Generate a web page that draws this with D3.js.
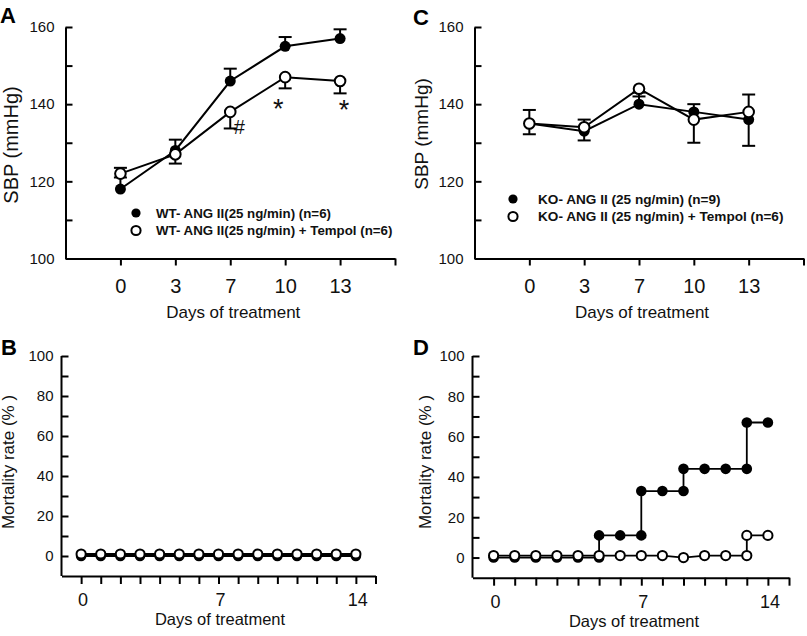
<!DOCTYPE html>
<html>
<head>
<meta charset="utf-8">
<script src="https://cdn.jsdelivr.net/npm/d3@7"></script>
<style>
  html, body { margin: 0; padding: 0; background: #fff; }
  svg { display: block; font-family: "Liberation Sans", Arial, sans-serif; }
</style>
</head>
<body>
<svg id="chart" width="807" height="636"></svg>
<script>
// ---------------- DATA ----------------
const sbpDays = ["0", "3", "7", "10", "13"];
const sbpTicks = [100, 110, 120, 130, 140, 150, 160];
const sbpTickLabels = ["100", "", "120", "", "140", "", "160"];

const wtAng = [118, 128, 146, 155, 157];
const wtAngErr = [5.5, 2.8, 3.2, 2.4, 2.4];
const wtTempol = [122, 127, 138, 147, 146];
const wtTempolErr = [1, 2.4, 4.3, 2.9, 3.2];

const koAng = [135, 133, 140, 138, 136];
const koAngErr = [3.5, 3, 3, 2, 6.5];
const koTempol = [135, 134, 144, 136, 138];
const koTempolErr = [2.8, 3.4, 2, 6, 8.8];

const annIndex = [2, 3, 4];
const annText = ["#", "*", "*"];

const mortTicks = [0, 10, 20, 30, 40, 50, 60, 70, 80, 90, 100];
const mortTickLabels = ["0", "", "20", "", "40", "", "60", "", "80", "", "100"];

// Panel B (WT): days 0..14
const bDays = [0, 1, 2, 3, 4, 5, 6, 7, 8, 9, 10, 11, 12, 13, 14];
const bAng = [0, 0, 0, 0, 0, 0, 0, 0, 0, 0, 0, 0, 0, 0, 0];
const bTempol = [1, 1, 1, 1, 1, 1, 1, 1, 1, 1, 1, 1, 1, 1, 1];
const bTickPos = [0, 1, 2, 3, 4, 5, 6, 7, 8, 9, 10, 11, 12, 13, 14, 15];
const bTickLabelPos = [0, 7, 14];
const bTickLabels = ["0", "7", "14"];

// Panel D (KO): step curves
const dAngDays = [0, 1, 2, 3, 4, 5, 5, 6, 7, 7, 8, 9, 9, 10, 11, 12, 12, 13];
const dAng =     [0, 0, 0, 0, 0, 0, 11, 11, 11, 33, 33, 33, 44, 44, 44, 44, 67, 67];
const dTempolDays = [0, 1, 2, 3, 4, 5, 6, 7, 8, 9, 10, 11, 12, 12, 13];
const dTempol =     [1, 1, 1, 1, 1, 1, 1, 1, 1, 0, 1, 1, 1, 11, 11];
const dTickPos = [0, 1, 2, 3, 4, 5, 6, 7, 8, 9, 10, 11, 12, 13, 14];
const dTickLabelPos = [0, 7, 13];
const dTickLabels = ["0", "7", "14"];

// ---------------- DRAW ----------------
const svg = d3.select("#chart");
const FONT = "Liberation Sans, Arial, sans-serif";

function yAxisInward(g, y, ticks, labels, pad, fs) {
  g.call(d3.axisLeft(y).tickValues(ticks).tickSize(-7).tickSizeOuter(0)
      .tickPadding(pad).tickFormat((d, i) => labels[i]));
  g.selectAll("path, line").attr("stroke", "#000").attr("stroke-width", 2);
  g.selectAll("text").attr("font-size", fs).attr("fill", "#111").attr("font-family", FONT);
}

function panelLetter(x, y, t) {
  svg.append("text").attr("x", x).attr("y", y).attr("font-size", 22)
    .attr("font-weight", "bold").text(t);
}

function sbpPanel(opt) {
  const x = d3.scaleLinear().domain([-1, 5]).range(opt.xr);
  const y = d3.scaleLinear().domain([100, 160]).range([258.5, 27]);
  const g = svg.append("g");
  // x axis
  const xa = g.append("g").attr("transform", `translate(0,${y(100)})`)
    .call(d3.axisBottom(x).tickValues([0, 1, 2, 3, 4, 5]).tickSize(7).tickSizeOuter(0)
      .tickPadding(13).tickFormat(i => i < sbpDays.length ? sbpDays[i] : ""));
  xa.selectAll("path, line").attr("stroke", "#000").attr("stroke-width", 2);
  xa.selectAll("text").attr("font-size", 20).attr("fill", "#111").attr("font-family", FONT);
  // y axis
  const ya = g.append("g").attr("transform", `translate(${x(-1)},0)`);
  yAxisInward(ya, y, sbpTicks, sbpTickLabels, 11, 15);

  // axis titles
  g.append("text").attr("x", (x(-1) + x(5)) / 2 + 3).attr("y", 318)
    .attr("text-anchor", "middle").attr("font-size", 17).attr("fill", "#111").text("Days of treatment");
  g.append("text").attr("transform", `translate(${opt.ylabX},${opt.ylabY}) rotate(-90)`)
    .attr("text-anchor", "middle").attr("font-size", opt.ylabFs).attr("fill", "#111").text("SBP (mmHg)");

  const idx = d3.range(sbpDays.length);
  const line = d3.line().x(d => x(d[0])).y(d => y(d[1]));
  // error bars: filled up, open down
  function errs(vals, ev, dir) {
    idx.forEach(i => {
      const y0 = y(vals[i]), y1 = y(vals[i] + dir * ev[i]);
      g.append("line").attr("x1", x(i)).attr("x2", x(i)).attr("y1", y0).attr("y2", y1)
        .attr("stroke", "#000").attr("stroke-width", 2);
      g.append("line").attr("x1", x(i) - 6.5).attr("x2", x(i) + 6.5).attr("y1", y1).attr("y2", y1)
        .attr("stroke", "#000").attr("stroke-width", 2);
    });
  }
  errs(opt.fill, opt.fillErr, 1);
  errs(opt.open, opt.openErr, -1);
  g.append("path").datum(idx.map(i => [i, opt.fill[i]])).attr("d", line)
    .attr("fill", "none").attr("stroke", "#000").attr("stroke-width", 2);
  g.append("path").datum(idx.map(i => [i, opt.open[i]])).attr("d", line)
    .attr("fill", "none").attr("stroke", "#000").attr("stroke-width", 2);
  idx.forEach(i => {
    g.append("circle").attr("cx", x(i)).attr("cy", y(opt.fill[i])).attr("r", 5.5).attr("fill", "#000");
  });
  idx.forEach(i => {
    g.append("circle").attr("cx", x(i)).attr("cy", y(opt.open[i])).attr("r", 5.3)
      .attr("fill", "#fff").attr("stroke", "#000").attr("stroke-width", 2);
  });

  // legend
  const lg = g.append("g");
  opt.legend.forEach((t, k) => {
    const cy = opt.legY + k * 17.5;
    lg.append("circle").attr("cx", opt.legX).attr("cy", cy).attr("r", 4.6)
      .attr("fill", k === 0 ? "#000" : "#fff").attr("stroke", "#000").attr("stroke-width", k === 0 ? 0 : 2);
    lg.append("text").attr("x", opt.legX + opt.legGap).attr("y", cy + 4.6).attr("font-size", opt.legFs)
      .attr("font-weight", "bold").attr("fill", "#111").text(t);
  });
  return { x, y, g };
}

// Panel A
const A = sbpPanel({
  xr: [65.5, 395], fill: wtAng, fillErr: wtAngErr, open: wtTempol, openErr: wtTempolErr,
  ylabX: 18, ylabY: 145, ylabFs: 20,
  legend: ["WT- ANG II(25 ng/min) (n=6)", "WT- ANG II(25 ng/min) + Tempol (n=6)"],
  legX: 136, legY: 213, legGap: 20, legFs: 13.3
});
// annotations on panel A
const annDx = [9, -7, 4];
const annDy = [6, 30, 26];
const annFs = [20, 27, 27];
annIndex.forEach((i, k) => {
  A.g.append("text").attr("x", A.x(i) + annDx[k])
    .attr("y", A.y(wtTempol[i] - wtTempolErr[i]) + annDy[k])
    .attr("text-anchor", "middle").attr("font-size", annFs[k]).attr("fill", "#111").text(annText[k]);
});
panelLetter(0, 23, "A");

// Panel C
sbpPanel({
  xr: [474.5, 803.5], fill: koAng, fillErr: koAngErr, open: koTempol, openErr: koTempolErr,
  ylabX: 428, ylabY: 134, ylabFs: 19,
  legend: ["KO- ANG II (25 ng/min) (n=9)", "KO- ANG II (25 ng/min) + Tempol (n=6)"],
  legX: 513, legY: 199, legGap: 25, legFs: 13.6
});
panelLetter(413, 25, "C");

// ---------------- MORTALITY PANELS ----------------
function mortPanel(opt) {
  const x = d3.scaleLinear().domain(opt.xd).range(opt.xr);
  const y = d3.scaleLinear().domain([-10, 100]).range([opt.yBottom, 356]);
  const g = svg.append("g");
  const xa = g.append("g").attr("transform", `translate(0,${y(-10)})`)
    .call(d3.axisBottom(x).tickValues(opt.ticks).tickSize(8).tickSizeOuter(0).tickFormat(""));
  xa.selectAll("path, line").attr("stroke", "#000").attr("stroke-width", 2);
  // tick labels
  g.selectAll(null).data(opt.labPos).enter().append("text")
    .attr("x", d => x(d) + 2).attr("y", y(-10) + 30).attr("text-anchor", "middle")
    .attr("font-size", 18).attr("fill", "#111").text((d, i) => opt.labs[i]);
  const ya = g.append("g").attr("transform", `translate(${x(opt.xd[0])},0)`);
  yAxisInward(ya, y, mortTicks, mortTickLabels, 8, 15);
  ya.select(".domain").attr("d", `M0,${y(100)}V${y(-10)}`);

  g.append("text").attr("x", opt.titleX).attr("y", y(-10) + 49)
    .attr("text-anchor", "middle").attr("font-size", 16.5).attr("fill", "#111").text("Days of treatment");
  g.append("text").attr("transform", `translate(${opt.ylabX},462) rotate(-90)`)
    .attr("text-anchor", "middle").attr("font-size", 17).attr("fill", "#111").text("Mortality rate (% )");

  const line = d3.line().x(d => x(d[0])).y(d => y(d[1]));
  const fillPts = opt.fillDays.map((d, i) => [d, opt.fill[i]]);
  const openPts = opt.openDays.map((d, i) => [d, opt.open[i]]);
  g.append("path").datum(fillPts).attr("d", line).attr("fill", "none").attr("stroke", "#000").attr("stroke-width", opt.lw);
  g.append("path").datum(openPts).attr("d", line).attr("fill", "none").attr("stroke", "#000").attr("stroke-width", opt.lw);
  fillPts.forEach(p => g.append("circle").attr("cx", x(p[0])).attr("cy", y(p[1])).attr("r", 5.3).attr("fill", "#000"));
  openPts.forEach(p => g.append("circle").attr("cx", x(p[0])).attr("cy", y(p[1])).attr("r", 4.6)
    .attr("fill", "#fff").attr("stroke", "#000").attr("stroke-width", 2));
}

mortPanel({
  xd: [-1, 15], xr: [61.5, 375.5], yBottom: 576, ticks: bTickPos,
  labPos: bTickLabelPos, labs: bTickLabels,
  fillDays: bDays, fill: bAng, openDays: bDays, open: bTempol,
  titleX: 220, ylabX: 14, lw: 2.2
});
panelLetter(1, 355, "B");

mortPanel({
  xd: [-1, 14], xr: [472.5, 789], yBottom: 577.7, ticks: dTickPos,
  labPos: dTickLabelPos, labs: dTickLabels,
  fillDays: dAngDays, fill: dAng, openDays: dTempolDays, open: dTempol,
  titleX: 634, ylabX: 431, lw: 1.8
});
panelLetter(413, 355, "D");
</script>
</body>
</html>
